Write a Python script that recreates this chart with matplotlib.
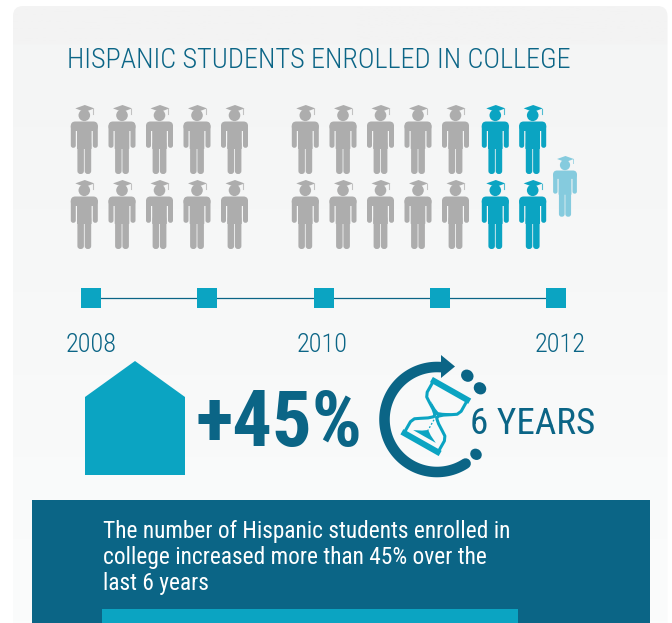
import numpy as np
import matplotlib
matplotlib.use("Agg")
import matplotlib.pyplot as plt
from matplotlib.colors import LinearSegmentedColormap
from matplotlib.font_manager import fontManager
from matplotlib.patches import Circle, Ellipse, FancyBboxPatch, Polygon, Rectangle

# colours
DARK = "#0b6586"
TEAL = "#0ba4c2"
LIGHT = "#85cbde"
GREY = "#adadad"

TITLE = "HISPANIC STUDENTS ENROLLED IN COLLEGE"
BODY = ["The number of Hispanic students enrolled in",
        "college increased more than 45% over the",
        "last 6 years"]
TIMELINE_YEARS = ["2008", "2010", "2012"]
TIMELINE_STEPS = [2008, 2009, 2010, 2011, 2012]

# icon columns per group, two rows each
GROUP_2008_X = [84.3, 122, 159.5, 197, 234.5]
GROUP_2012_GREY_X = [305.3, 343, 380.5, 418, 455.5]
GROUP_2012_NEW_X = [495.3, 532.7]
ROW_TOPS = [105, 180]
PERCENT_INCREASE = 45
YEARS_SPAN = 6

installed = {f.name for f in fontManager.ttflist}
FONT = next(n for n in ["Roboto Condensed", "Roboto"] if n in installed)
plt.rcParams["font.family"] = FONT

fig = plt.figure(figsize=(6.72, 6.23), dpi=100)
ax = fig.add_axes([0, 0, 1, 1])
ax.set_xlim(0, 672)
ax.set_ylim(623, 0)
ax.axis("off")


def person(cx, top, color, s=1.0):
    # graduate figure, drawn around the centre line from the cap downwards
    def rect(x, y, w, h, r):
        ax.add_patch(FancyBboxPatch((cx + x * s, top + y * s), w * s, h * s,
                                    boxstyle=f"round,pad=0,rounding_size={r * s}",
                                    fc=color, ec="none"))
    ax.add_patch(Circle((cx, top + 10.3 * s), 5.8 * s, fc=color, ec="none"))
    ax.add_patch(Polygon([(cx - 9 * s, top + 3.4 * s), (cx + 0.5 * s, top),
                          (cx + 10 * s, top + 3.4 * s), (cx + 0.5 * s, top + 7 * s)],
                         fc=color, ec="none"))
    rect(-13.5, 16.5, 27, 9.5, 4.5)       # shoulders
    rect(-13.5, 19, 5, 23.8, 2.4)         # left arm
    rect(8.5, 19, 5, 23.8, 2.4)           # right arm
    rect(-7.3, 18, 14.6, 26, 0.5)         # torso
    rect(-6.9, 36, 6.5, 33, 3)            # left leg
    rect(0.4, 36, 6.5, 33, 3)             # right leg
    ax.plot([cx + 8.8 * s, cx + 8.8 * s], [top + 3.6 * s, top + 8.5 * s],
            color=color, lw=0.8 * s, alpha=0.7)


# card background with a soft vertical gradient and a faint step near the top
grad = np.linspace(0, 1, 512).reshape(-1, 1)
card_cmap = LinearSegmentedColormap.from_list(
    "card", [(0, "#f3f3f3"), (0.058, "#f3f3f3"), (0.06, "#f4f5f5"), (1, "#fbfcfc")])
card = ax.imshow(grad, extent=(13, 672, 623, 6), cmap=card_cmap, aspect="auto", zorder=0)
clip = FancyBboxPatch((13, 6), 654.5, 640, boxstyle="round,pad=0,rounding_size=10",
                      transform=ax.transData, fc="none", ec="none")
ax.add_patch(clip)
card.set_clip_path(clip)
ax.set_xlim(0, 672)
ax.set_ylim(623, 0)

ax.text(67, 68, TITLE, fontsize=20.3, fontweight=300, color=DARK, va="baseline", ha="left")

for top in ROW_TOPS:
    for x in GROUP_2008_X + GROUP_2012_GREY_X:
        person(x, top, GREY)
    for x in GROUP_2012_NEW_X:
        person(x, top, TEAL)
person(565, 156, LIGHT, 0.88)

# timeline
step_x = np.interp(TIMELINE_STEPS, [2008, 2012], [91, 556])
ax.plot([step_x[0], step_x[-1]], [298, 298], color=DARK, lw=0.9, zorder=2)
for x in step_x:
    ax.add_patch(Rectangle((x - 10, 288), 20, 20, fc=TEAL, ec="none", zorder=3))
for label, x in zip(TIMELINE_YEARS, [91, 322, 560]):
    ax.text(x, 352, label, fontsize=19, fontweight=300, color=DARK, ha="center", va="baseline")

# house-shaped block
ax.add_patch(Polygon([(85, 475), (85, 397), (135, 361), (185, 397), (185, 475)],
                     fc=TEAL, ec="none"))
ax.text(196, 446, f"+{PERCENT_INCREASE}%", fontsize=56.5, fontweight="bold", color=DARK,
        ha="left", va="baseline")

# circular arrow round the hourglass, angles measured with y pointing down
cx, cy, r = 437, 419.5, 52.5
theta = np.radians(np.linspace(274, 57, 120))
ax.plot(cx + r * np.cos(theta), cy + r * np.sin(theta), color=DARK, lw=7.6,
        solid_capstyle="round")
ax.add_patch(Polygon([(455, 366.5), (441, 355), (441, 378)], fc=DARK, ec="none"))
for x, y, w in [(467.3, 375.7, 13), (480, 388.3, 13), (476, 454.3, 12)]:
    ax.add_patch(Ellipse((x, y), w, w * 0.9, angle=40, fc=DARK, ec="none"))


# hourglass, built upright then tilted
def tilt(pts, ang=29.5, at=(435.8, 416.5)):
    a = np.radians(ang)
    pts = np.asarray(pts, float)
    x = pts[:, 0] * np.cos(a) - pts[:, 1] * np.sin(a) + at[0]
    y = pts[:, 0] * np.sin(a) + pts[:, 1] * np.cos(a) + at[1]
    return np.column_stack([x, y])


for y in (-30, 30):
    ax.add_patch(Polygon(tilt([(-22, y - 3), (22, y - 3), (22, y + 3), (-22, y + 3)]),
                         fc=TEAL, ec="none"))
glass = [(19.5, -30), (19.5, -17), (17.5, -12.5), (13, -9.5), (6, -5), (2, -1.5), (1.5, 0),
         (2, 1.5), (6, 5), (13, 9.5), (17.5, 12.5), (19.5, 17), (19.5, 30)]
for side in (-1, 1):
    p = tilt([(side * x, y) for x, y in glass])
    ax.plot(p[:, 0], p[:, 1], color=TEAL, lw=2.2, solid_joinstyle="round")
# sand left in the top bulb and the pile below
ax.add_patch(Polygon(tilt([(-12, -11), (-4, -6.5), (0, -5), (4, -6.5), (13, -11), (2, -1.5), (-2, -1.5)]),
                     fc=TEAL, ec="none"))
ax.add_patch(Polygon(tilt([(-13, 23), (13, 23), (5, 19), (0, 15.5), (-5, 19)]), fc=TEAL, ec="none"))
p = tilt([(0, 0), (0, 16)])
ax.plot(p[:, 0], p[:, 1], color=TEAL, lw=0.9, ls=(0, (1.5, 1.5)))

ax.text(470.5, 434, f"{YEARS_SPAN} YEARS", fontsize=26.7, color=DARK, ha="left", va="baseline")

# bottom panel
ax.add_patch(Rectangle((32, 500), 618, 123, fc=DARK, ec="none"))
ax.add_patch(Rectangle((102, 609), 416, 14, fc=TEAL, ec="none"))
for line, y in zip(BODY, [538, 564, 590]):
    ax.text(103, y, line, fontsize=16.8, color="white", ha="left", va="baseline")

fig.savefig("out.png", dpi=100)
